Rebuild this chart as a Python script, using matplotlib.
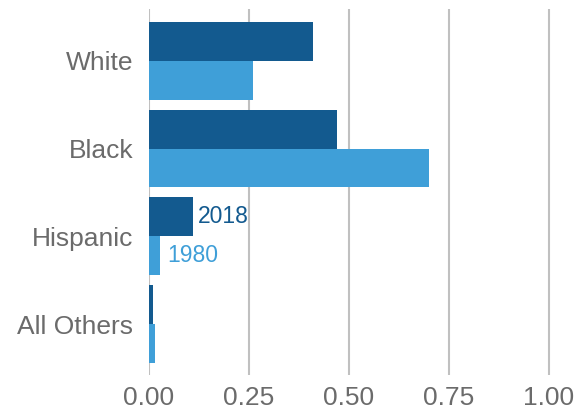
import numpy as np
import matplotlib
matplotlib.use("Agg")
import matplotlib.pyplot as plt

plt.rcParams['font.family'] = ['Liberation Sans', 'DejaVu Sans']

groups = ["White", "Black", "Hispanic", "All Others"]
share_2018 = [0.41, 0.47, 0.11, 0.011]
share_1980 = [0.26, 0.70, 0.028, 0.014]
xticks = [0.0, 0.25, 0.5, 0.75, 1.0]

dark = "#135a8f"
light = "#3f9fd8"
grey_txt = "#6b6b6b"

fig = plt.figure(figsize=(5.88, 4.15), dpi=100)
ax = fig.add_axes([149 / 588, 1 - 375 / 415, 1 - 149 / 588, (375 - 9) / 415])

y = np.arange(len(groups))
h = 0.443
ax.barh(y - h / 2, share_2018, height=h, color=dark, zorder=3)
ax.barh(y + h / 2, share_1980, height=h, color=light, zorder=3)

# labels next to the Hispanic bars
i = groups.index("Hispanic")
ax.text(share_2018[i] + 0.012, y[i] - h / 2, "2018", color=dark,
        fontsize=16.5, va="center", ha="left")
ax.text(share_1980[i] + 0.018, y[i] + h / 2, "1980", color=light,
        fontsize=16.5, va="center", ha="left")

ax.set_xlim(0, (588 - 149) / 400)
ax.set_ylim(3.58, -0.59)
ax.set_xticks(xticks)
ax.set_xticklabels([f"{v:.2f}" for v in xticks])
ax.set_yticks(y)
ax.set_yticklabels(groups)
ax.tick_params(axis="both", length=0, labelsize=19, labelcolor=grey_txt)
ax.tick_params(axis="y", pad=11.5)
ax.tick_params(axis="x", pad=8)
ax.grid(axis="x", color="#c0c0c0", linewidth=1.5, zorder=0)
ax.grid(axis="y", visible=False)
for s in ax.spines.values():
    s.set_visible(False)

fig.savefig("out.png", dpi=100)
